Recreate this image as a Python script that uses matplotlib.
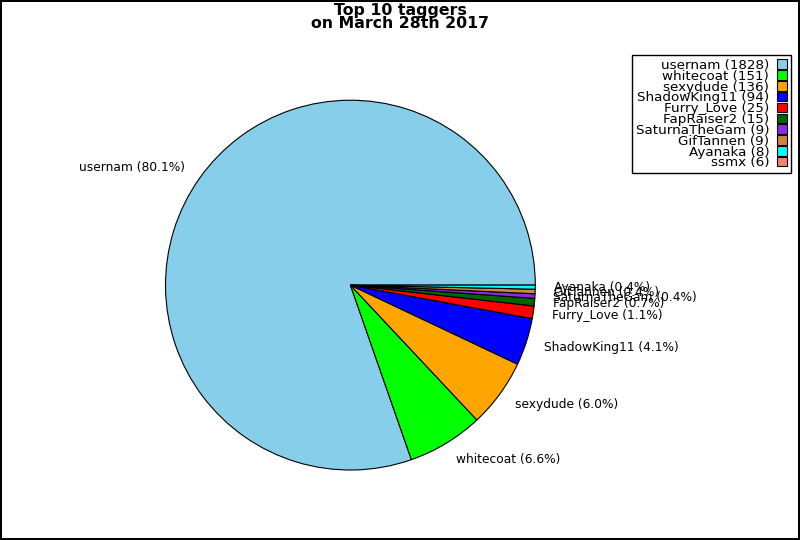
import matplotlib.pyplot as plt
import matplotlib.patches as mpatches

# tagger names and tag counts
users = ['usernam', 'whitecoat', 'sexydude', 'ShadowKing11', 'Furry_Love',
         'FapRaiser2', 'SaturnaTheGam', 'GifTannen', 'Ayanaka', 'ssmx']
counts = [1828, 151, 136, 94, 25, 15, 9, 9, 8, 6]
colors = ['skyblue', 'lime', 'orange', 'blue', 'red',
          'darkgreen', 'blueviolet', 'peru', 'cyan', 'salmon']

total = sum(counts)
labels = ['%s (%.1f%%)' % (u, 100.0 * c / total) for u, c in zip(users, counts)]

fig = plt.figure(figsize=(8, 5.4), dpi=100)
fig.patch.set_edgecolor('black')
fig.patch.set_linewidth(1.5)

ax = fig.add_axes([0.149, 0.044, 0.578, 0.856])
# the last tagger only shows up in the legend, not as a wedge
ax.pie(counts[:9], labels=labels[:9], colors=colors[:9],
       wedgeprops={'edgecolor': 'black', 'linewidth': 0.8},
       textprops={'fontsize': 8.8})
ax.set_xlim(-1.25, 1.25)
ax.set_ylim(-1.25, 1.25)
ax.set_aspect('equal')

fig.suptitle('Top 10 taggers\non March 28th 2017', fontsize=11.3,
             fontweight='bold', y=0.994, linespacing=0.8)

# legend with counts, marker on the right
handles = [mpatches.Patch(facecolor=c, edgecolor='black', linewidth=0.8) for c in colors]
leg_labels = ['%s (%d)' % (u, c) for u, c in zip(users, counts)]
leg = fig.legend(handles, leg_labels, loc='upper right',
                 bbox_to_anchor=(0.997, 0.911), markerfirst=False,
                 fontsize=9.7, labelspacing=-0.16, handlelength=0.7,
                 handleheight=0.7, handletextpad=0.6, borderpad=0.3,
                 fancybox=False, edgecolor='black', framealpha=1)
leg.get_frame().set_linewidth(1)

plt.savefig('out.png', dpi=100)
